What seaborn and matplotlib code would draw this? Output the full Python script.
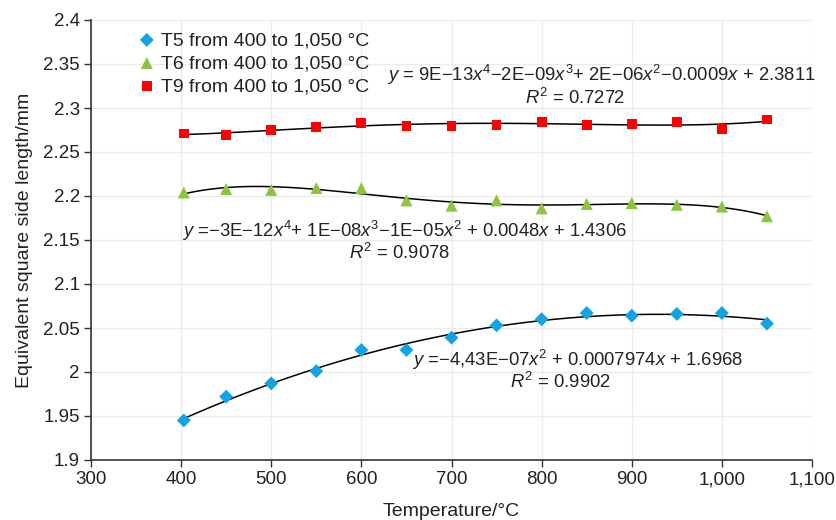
import numpy as np
import pandas as pd
import matplotlib
matplotlib.use("Agg")
import matplotlib.pyplot as plt
import seaborn as sns
from matplotlib.ticker import FuncFormatter

# ---- data ----
temps = [403, 450, 500, 550, 600, 650, 700, 750, 800, 850, 900, 950, 1000, 1050]
t5 = [1.945, 1.972, 1.987, 2.001, 2.025, 2.025, 2.039, 2.053, 2.060, 2.067, 2.064, 2.066, 2.067, 2.055]
t6 = [2.204, 2.208, 2.207, 2.209, 2.209, 2.195, 2.189, 2.195, 2.186, 2.191, 2.192, 2.190, 2.188, 2.177]
t9 = [2.271, 2.269, 2.275, 2.278, 2.283, 2.280, 2.280, 2.281, 2.284, 2.281, 2.282, 2.284, 2.276, 2.287]
series_names = ["T5 from 400 to 1,050 \u00b0C", "T6 from 400 to 1,050 \u00b0C", "T9 from 400 to 1,050 \u00b0C"]
fit_orders = [2, 4, 4]
equations = [
    "$y$ =\u22124,43E\u221207$x^2$ + 0.0007974$x$ + 1.6968",
    "$y$ =\u22123E\u221212$x^4$+ 1E\u221208$x^3$\u22121E\u221205$x^2$ + 0.0048$x$ + 1.4306",
    "$y$ = 9E\u221213$x^4$\u22122E\u221209$x^3$+ 2E\u221206$x^2$\u22120.0009$x$ + 2.3811",
]
r2_labels = ["$R^2$ = 0.9902", "$R^2$ = 0.9078", "$R^2$ = 0.7272"]
x_ticks = [300, 400, 500, 600, 700, 800, 900, 1000, 1100]
y_ticks = [1.9, 1.95, 2.0, 2.05, 2.1, 2.15, 2.2, 2.25, 2.3, 2.35, 2.4]

colors = ["#12A3E6", "#8CC63F", "#FF0000"]
markers = ["D", "^", "s"]
sizes = [50, 75, 50]

sns.set_theme(style="whitegrid")
plt.rcParams["font.family"] = ["Liberation Sans", "DejaVu Sans"]
plt.rcParams["mathtext.fontset"] = "custom"
plt.rcParams["mathtext.rm"] = "Liberation Sans"
plt.rcParams["mathtext.it"] = "Liberation Sans:italic"

df = pd.DataFrame({
    "Temperature": temps * 3,
    "value": t5 + t6 + t9,
    "series": [series_names[0]] * len(temps) + [series_names[1]] * len(temps) + [series_names[2]] * len(temps),
})

fig = plt.figure(figsize=(8.36, 5.2), dpi=100)
ax = fig.add_axes([91 / 836, 1 - 460 / 520, (812 - 91) / 836, (460 - 20) / 520])
ax.set_facecolor("white")

# trendlines
for name, order in zip(series_names, fit_orders):
    sub = df[df["series"] == name]
    sns.regplot(data=sub, x="Temperature", y="value", order=order, ci=None, scatter=False,
                ax=ax, line_kws={"color": "black", "lw": 1.1, "zorder": 2})

# markers
for name, c, m, s in zip(series_names, colors, markers, sizes):
    sub = df[df["series"] == name]
    sns.scatterplot(data=sub, x="Temperature", y="value", color=c, marker=m, s=s,
                    edgecolor="none", ax=ax, label=name, zorder=3)

ax.set_xlim(300, 1100)
ax.set_ylim(1.9, 2.4)
ax.set_xticks(x_ticks)
ax.set_yticks(y_ticks)
ax.xaxis.set_major_formatter(FuncFormatter(lambda v, p: f"{int(v):,}"))
ax.yaxis.set_major_formatter(FuncFormatter(lambda v, p: f"{v:g}"))

ax.grid(True, color="#EBEBEB", lw=1)
for side in ["top", "right"]:
    ax.spines[side].set_visible(False)
for side in ["left", "bottom"]:
    ax.spines[side].set_visible(True)
    ax.spines[side].set_color("#333333")
    ax.spines[side].set_linewidth(1.2)
ax.tick_params(axis="both", which="major", direction="out", length=5, width=1,
               color="#333333", labelsize=13.5, labelcolor="#222222", pad=3, left=True, bottom=True)

ax.set_xlabel("Temperature/\u00b0C", fontsize=14, color="#222222", labelpad=11)
ax.set_ylabel("Equivalent square side length/mm", fontsize=14, color="#222222", labelpad=7)

leg = ax.legend(loc="upper left", bbox_to_anchor=(0.045, 1.005), frameon=False, fontsize=14,
                handletextpad=0.25, labelspacing=0.28, borderaxespad=0.3, handlelength=1.0)
for t in leg.get_texts():
    t.set_color("#222222")

# equations
eq_pos = [((578 - 91) / 721, 1 - (360 - 20) / 440), ((405 - 91) / 721, 1 - (231 - 20) / 440),
          ((601 - 91) / 721, 1 - (75 - 20) / 440)]
r2_pos = [((560 - 91) / 721, 1 - (382 - 20) / 440), ((400 - 91) / 721, 1 - (253 - 20) / 440),
          ((575 - 91) / 721, 1 - (98 - 20) / 440)]
for eq, r2, ep, rp in zip(equations, r2_labels, eq_pos, r2_pos):
    ax.text(ep[0], ep[1], eq, transform=ax.transAxes, ha="center", va="center", fontsize=13.3, color="#222222")
    ax.text(rp[0], rp[1], r2, transform=ax.transAxes, ha="center", va="center", fontsize=13.3, color="#222222")

fig.savefig("out.png", dpi=100, facecolor="white")
